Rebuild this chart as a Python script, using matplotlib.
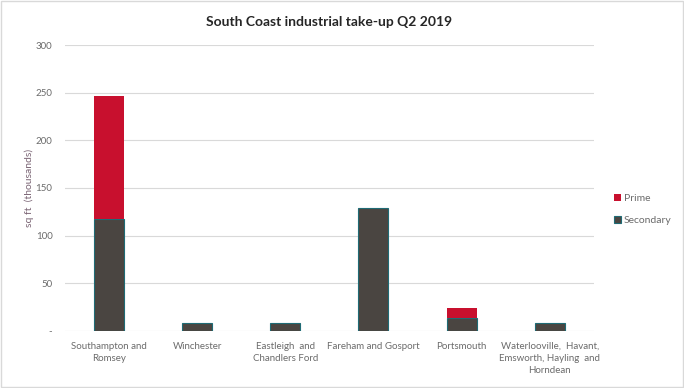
import matplotlib.pyplot as plt
import numpy as np
from matplotlib.patches import Rectangle

plt.rcParams['font.family'] = ['Lato', 'DejaVu Sans']

areas = ["Southampton and\nRomsey", "Winchester", "Eastleigh  and\nChandlers Ford",
         "Fareham and Gosport", "Portsmouth",
         "Waterlooville,  Havant,\nEmsworth, Hayling  and\nHorndean"]
secondary = [117, 8, 8, 129, 14, 8]
prime = [130, 0, 0, 0, 10, 0]
yticks = [0, 50, 100, 150, 200, 250, 300]
ytick_labels = ["-", "50", "100", "150", "200", "250", "300"]

fig = plt.figure(figsize=(6.84, 3.88), dpi=100)
ax = fig.add_axes([0.095, 0.147, 0.773, 0.737])

x = np.arange(len(areas))
ax.bar(x, secondary, width=0.34, color="#4a4541", edgecolor="#1f6b75",
       linewidth=0.8, label="Secondary", zorder=3)
ax.bar(x, prime, width=0.34, bottom=secondary, color="#c8102e",
       linewidth=0, label="Prime", zorder=3)

ax.set_xlim(-0.5, len(areas) - 0.5)
ax.set_ylim(0, 300)
ax.set_yticks(yticks)
ax.set_yticklabels(ytick_labels)
ax.set_xticks(x)
ax.set_xticklabels(areas, linespacing=1.4)
ax.grid(axis="y", color="#d9d9d9", linewidth=0.8, zorder=0)
for s in ax.spines.values():
    s.set_visible(False)
ax.tick_params(axis="both", length=0, labelsize=7, colors="#6b6b6b")
ax.tick_params(axis="y", pad=9)
ax.tick_params(axis="x", pad=8)
ax.set_ylabel("sq ft  (thousands)", fontsize=7.5, color="#7a6474", labelpad=1)

ax.set_title("South Coast industrial take-up Q2 2019", fontsize=10,
             fontweight="bold", color="#262626", pad=14)

handles, labels = ax.get_legend_handles_labels()
ax.legend(handles[::-1], labels[::-1], loc="center left",
          bbox_to_anchor=(1.02, 0.425), frameon=False, fontsize=7.5,
          labelcolor="#6b6b6b", handlelength=0.7, handleheight=0.7,
          handletextpad=0.3, labelspacing=1.2)

fig.patches.append(Rectangle((0.002, 0.002), 0.996, 0.995, transform=fig.transFigure,
                             fill=False, edgecolor="#d9d9d9", linewidth=1))

fig.savefig("out.png", dpi=100)
